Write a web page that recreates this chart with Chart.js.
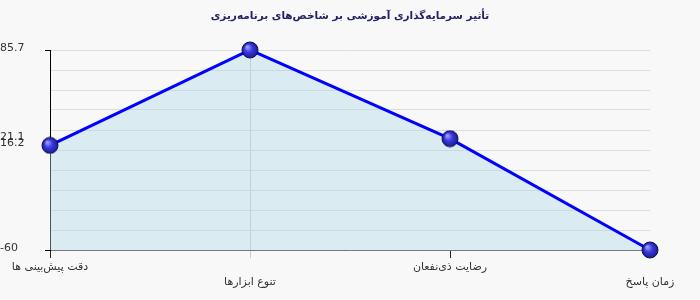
<!DOCTYPE html>
<html>
<head>
<meta charset="utf-8">
<script src="https://cdn.jsdelivr.net/npm/chart.js@4"></script>
<style>
  html, body { margin: 0; padding: 0; background: #f8f8f8; }
  #wrap { width: 700px; height: 300px; }
</style>
</head>
<body>
<div id="wrap"><canvas id="chart"></canvas></div>
<script>
// Data
const titleText = "تأثیر سرمایه‌گذاری آموزشی بر شاخص‌های برنامه‌ریزی";
const categories = ["دقت پیش‌بینی ها", "تنوع ابزارها", "رضایت ذی‌نفعان", "زمان پاسخ"];
const values = [16.2, 85.7, 21.1, -60];
const yMin = -60;
const yMax = 85.7;
const yLabelTicks = [85.7, 21.1, 16.2, -60];
const gridSteps = 10;

// Shaded sphere used as point marker
function makeBall(r) {
  const c = document.createElement("canvas");
  const size = r * 2 + 2;
  c.width = size;
  c.height = size;
  const g = c.getContext("2d");
  const cx = size / 2, cy = size / 2;
  const grad = g.createRadialGradient(cx - r * 0.35, cy - r * 0.4, r * 0.1, cx, cy, r);
  grad.addColorStop(0, "#9a9aff");
  grad.addColorStop(0.45, "#3a3ae0");
  grad.addColorStop(1, "#1a1a9a");
  g.beginPath();
  g.arc(cx, cy, r, 0, Math.PI * 2);
  g.fillStyle = grad;
  g.fill();
  g.lineWidth = 1;
  g.strokeStyle = "#10104a";
  g.stroke();
  return c;
}
const ball = makeBall(8);

function labelFor(v) {
  return yLabelTicks.find((t) => Math.abs(t - v) < 1e-6);
}
function isGridTick(v) {
  const step = (yMax - yMin) / gridSteps;
  const k = (v - yMin) / step;
  return Math.abs(k - Math.round(k)) < 1e-6;
}

const ctx = document.getElementById("chart").getContext("2d");
new Chart(ctx, {
  type: "line",
  data: {
    labels: categories,
    datasets: [
      {
        data: values,
        borderColor: "#0000ff",
        borderWidth: 3,
        backgroundColor: "rgba(173, 216, 230, 0.4)",
        fill: "start",
        tension: 0,
        pointStyle: ball,
        pointRadius: 8,
        pointHoverRadius: 8,
        clip: false,
      },
    ],
  },
  options: {
    responsive: true,
    maintainAspectRatio: false,
    animation: false,
    layout: { padding: 0 },
    plugins: {
      legend: { display: false },
      tooltip: { enabled: false },
      title: {
        display: true,
        text: titleText,
        color: "#222266",
        font: { family: "DejaVu Sans", size: 10.5, weight: "bold", lineHeight: 1.2 },
        padding: { top: 10, bottom: 27.4 },
      },
    },
    scales: {
      x: {
        offset: false,
        afterFit: (s) => { s.height = 50; },
        border: { color: "#777777", width: 1 },
        grid: {
          color: (c) => (c.index === 1 ? "#cccccc" : "rgba(0,0,0,0)"),
          tickColor: (c) => (c.index === 1 ? "#cccccc" : "#222222"),
          tickLength: 8,
          drawOnChartArea: true,
        },
        ticks: {
          color: "#333333",
          font: { family: "DejaVu Sans", size: 11, lineHeight: 1.35 },
          padding: 2,
          maxRotation: 0,
          autoSkip: false,
          callback: function (v, i) {
            const t = this.getLabelForValue(v);
            return i % 2 ? ["", t] : t;
          },
        },
      },
      y: {
        min: yMin,
        max: yMax,
        afterFit: (s) => { s.width = 50; },
        afterBuildTicks: (s) => {
          const step = (yMax - yMin) / gridSteps;
          const ticks = [];
          for (let i = 0; i <= gridSteps; i++) {
            ticks.push({ value: i === gridSteps ? yMax : yMin + step * i });
          }
          yLabelTicks.forEach((v) => {
            if (!isGridTick(v)) ticks.push({ value: v });
          });
          s.ticks = ticks;
        },
        border: { color: "#000000", width: 1 },
        grid: {
          color: (c) => (isGridTick(c.tick.value) ? "#dddddd" : "rgba(0,0,0,0)"),
          tickColor: (c) =>
            isGridTick(c.tick.value) && labelFor(c.tick.value) !== undefined
              ? "#000000"
              : "rgba(0,0,0,0)",
          tickLength: 5,
        },
        ticks: {
          color: "#333333",
          font: { family: "DejaVu Sans", size: 11 },
          crossAlign: "far",
          padding: 2,
          labelOffset: -2,
          autoSkip: false,
          callback: (v) => {
            const t = labelFor(v);
            return t === undefined ? "" : String(t);
          },
        },
      },
      // empty right-hand axis, only reserves the right margin
      yRight: {
        position: "right",
        min: yMin,
        max: yMax,
        afterFit: (s) => { s.width = 50; },
        border: { display: false },
        grid: { display: false },
        ticks: { display: false },
      },
    },
  },
});
</script>
</body>
</html>
